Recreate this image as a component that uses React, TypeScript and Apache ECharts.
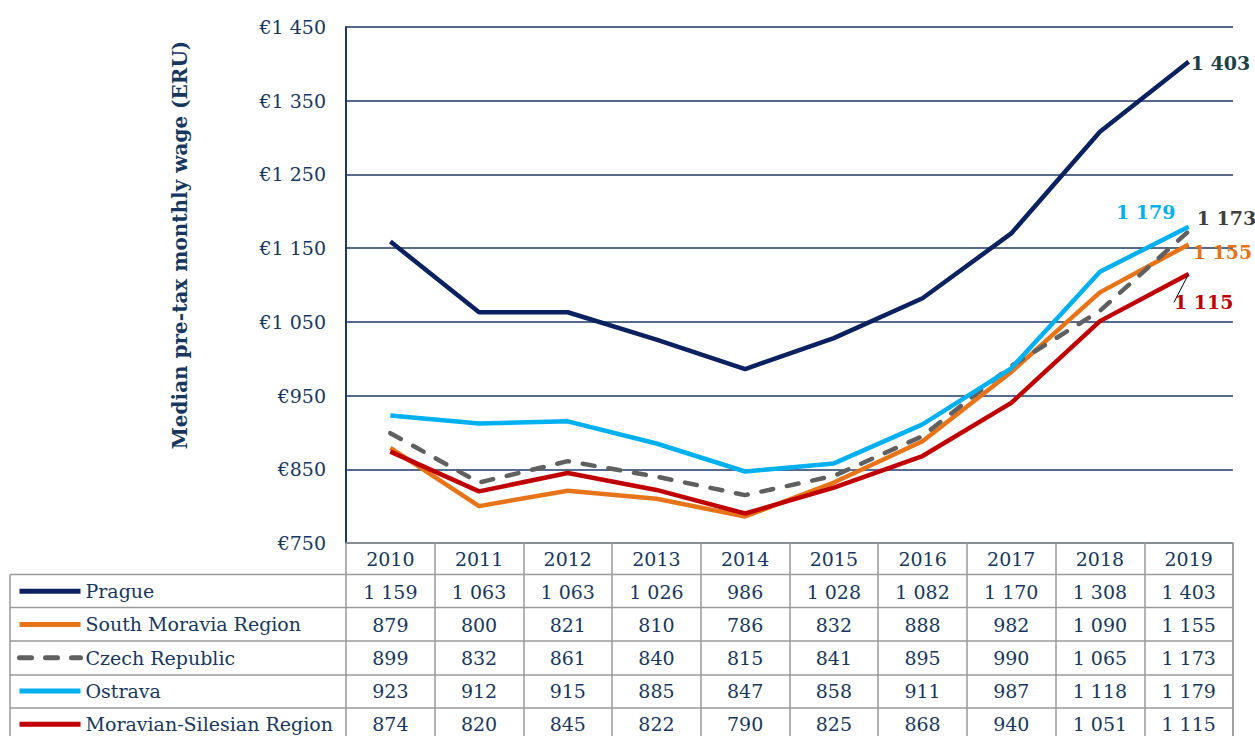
import React, { useEffect, useRef } from "react";
import * as echarts from "echarts";

const years = ["2010", "2011", "2012", "2013", "2014", "2015", "2016", "2017", "2018", "2019"];
const seriesNames = ["Prague", "South Moravia Region", "Czech Republic", "Ostrava", "Moravian-Silesian Region"];
const prague = [1159, 1063, 1063, 1026, 986, 1028, 1082, 1170, 1308, 1403];
const southMoravia = [879, 800, 821, 810, 786, 832, 888, 982, 1090, 1155];
const czech = [899, 832, 861, 840, 815, 841, 895, 990, 1065, 1173];
const ostrava = [923, 912, 915, 885, 847, 858, 911, 987, 1118, 1179];
const moravianSilesian = [874, 820, 845, 822, 790, 825, 868, 940, 1051, 1115];
const yTicks = { min: 750, max: 1450, interval: 100 };

const FONT = "DejaVu Serif";
const NAVY_TEXT = "#17375E";
const GRID_NAVY = "#1F3864";
const TABLE_GRAY = "#9A9A9A";

function fmt(v: number): string {
  if (v >= 1000) {
    const th = Math.floor(v / 1000);
    const rest = String(v % 1000).padStart(3, "0");
    return th + " " + rest;
  }
  return String(v);
}

export default function App() {
  const ref = useRef<HTMLDivElement>(null);
  useEffect(() => {
    document.body.style.margin = "0";
    if (!ref.current) return;
    const chart = echarts.init(ref.current, undefined, { renderer: "svg" });

    const gridLeft = 346;
    const gridRight = 1233;
    const gridTop = 27;
    const gridBottom = 543;
    const rowLines = [574.5, 607.5, 641, 675, 708];

    const allData = [prague, southMoravia, czech, ostrava, moravianSilesian];
    const colors = ["#0B2160", "#E8741A", "#606060", "#00B0F0", "#C00000"];
    const labelColors = ["#1A4048", "#E8741A", "#404040", "#00B0F0", "#C00000"];
    const labelCfg: any[] = [
      { position: "right", distance: 2, offset: [0, 1] },
      { position: "right", distance: 4, offset: [0, 8] },
      { position: "right", distance: 6, offset: [2, -13] },
      { position: "top", distance: 5, offset: [-43, 0] },
      { position: "bottom", distance: 0, offset: [0, 0] },
    ];

    const series = allData.map((d, si) => ({
      name: seriesNames[si],
      type: "line",
      data: d.map((v, i) =>
        i === d.length - 1
          ? {
              value: v,
              label: {
                show: true,
                ...labelCfg[si],
                formatter: (p: any) => fmt(p.value),
                color: labelColors[si],
                fontFamily: FONT,
                fontWeight: "bold",
                fontSize: 19,
              },
            }
          : v
      ),
      symbol: "circle",
      symbolSize: 0,
      showSymbol: true,
      lineStyle: {
        width: 4.5,
        color: colors[si],
        type: si === 2 ? [12, 14] : "solid",
        cap: si === 2 ? "round" : "butt",
      },
      itemStyle: { color: colors[si] },
      z: 3 + si,
      ...(si === 4
        ? {
            labelLayout: () => ({ dx: 15, dy: 19 }),
            labelLine: { show: true, length2: 0, lineStyle: { color: "#000", width: 1 } },
          }
        : {}),
    }));

    const graphics: any[] = [
      {
        type: "text",
        x: 180,
        y: 245,
        rotation: Math.PI / 2,
        style: {
          text: "Median pre-tax monthly wage (ERU)",
          fill: NAVY_TEXT,
          font: `bold 20px "${FONT}"`,
          align: "center",
          verticalAlign: "middle",
        },
      },
      {
        type: "line",
        shape: { x1: 10, y1: rowLines[0], x2: 10, y2: 736 },
        style: { stroke: TABLE_GRAY, lineWidth: 1.5 },
        z: 1,
      },
      {
        type: "line",
        shape: { x1: gridRight, y1: gridBottom, x2: gridRight, y2: 736 },
        style: { stroke: TABLE_GRAY, lineWidth: 1.5 },
        z: 1,
      },
      ...rowLines.map((y) => ({
        type: "line",
        shape: { x1: 10, y1: y, x2: gridRight, y2: y },
        style: { stroke: TABLE_GRAY, lineWidth: 1.5 },
        z: 1,
      })),
    ];

    chart.setOption({
      animation: false,
      backgroundColor: "#fff",
      grid: {
        left: gridLeft,
        right: 1255 - gridRight,
        top: gridTop,
        bottom: 736 - gridBottom,
        containLabel: false,
        outerBoundsMode: "none",
      },
      legend: {
        orient: "vertical",
        left: 17,
        top: rowLines[0],
        height: 300,
        padding: 0,
        itemGap: 0,
        itemWidth: 61,
        itemHeight: 14,
        data: seriesNames,
        itemStyle: { opacity: 0 },
        lineStyle: { width: 5 },
        textStyle: {
          color: NAVY_TEXT,
          fontFamily: FONT,
          fontSize: 19,
          lineHeight: 33.3,
          padding: [0, 0, 0, 0],
        },
        selectedMode: false,
      },
      xAxis: {
        type: "category",
        data: years,
        boundaryGap: true,
        axisLine: { show: true, lineStyle: { color: TABLE_GRAY, width: 1.5 } },
        axisTick: {
          show: true,
          alignWithLabel: false,
          length: 200,
          lineStyle: { color: TABLE_GRAY, width: 1.5 },
        },
        axisLabel: {
          margin: -0.5,
          interval: 0,
          color: NAVY_TEXT,
          fontFamily: FONT,
          fontSize: 19,
          lineHeight: 33,
          formatter: (val: string, idx: number) =>
            [val, ...allData.map((d) => fmt(d[idx]))].join("\n"),
        },
        splitLine: { show: false },
        z: 10,
      },
      yAxis: {
        type: "value",
        min: yTicks.min,
        max: yTicks.max,
        interval: yTicks.interval,
        axisLine: { show: true, lineStyle: { color: GRID_NAVY, width: 2 } },
        axisTick: { show: false },
        axisLabel: {
          margin: 20,
          color: NAVY_TEXT,
          fontFamily: FONT,
          fontSize: 19,
          formatter: (v: number) => "€" + fmt(v),
        },
        splitLine: { show: true, lineStyle: { color: GRID_NAVY, width: 1.5 } },
      },
      series,
      graphic: graphics,
    });

    return () => chart.dispose();
  }, []);
  return <div ref={ref} style={{ width: 1255, height: 736 }} />;
}
